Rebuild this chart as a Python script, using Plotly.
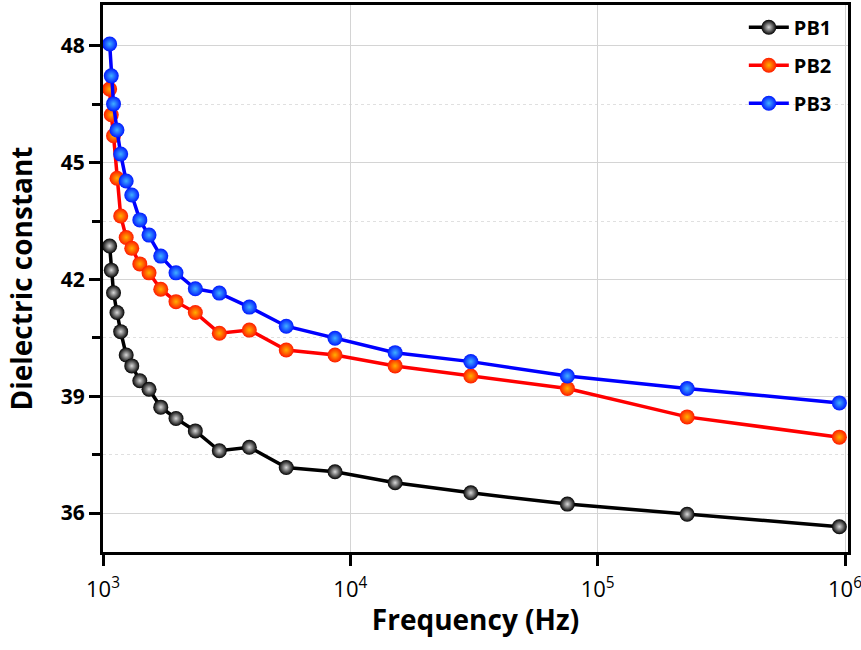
import plotly.graph_objects as go

freq = [1064, 1080, 1103, 1139, 1179, 1241, 1307, 1409, 1535, 1712, 1973, 2362,
        2953, 3905, 5506, 8670, 15170, 30690, 75420, 229900, 948600]
pb1 = [42.86, 42.24, 41.66, 41.15, 40.66, 40.06, 39.78, 39.40, 39.18, 38.72, 38.43,
       38.11, 37.60, 37.69, 37.17, 37.06, 36.78, 36.52, 36.23, 35.97, 35.65]
pb2 = [46.89, 46.23, 45.69, 44.60, 43.63, 43.08, 42.80, 42.40, 42.17, 41.75, 41.43,
       41.15, 40.62, 40.70, 40.19, 40.06, 39.78, 39.52, 39.20, 38.47, 37.95]
pb3 = [48.05, 47.23, 46.51, 45.84, 45.22, 44.53, 44.17, 43.53, 43.14, 42.60, 42.17,
       41.76, 41.65, 41.29, 40.80, 40.49, 40.12, 39.89, 39.52, 39.20, 38.83]

x_tickvals = [1e3, 1e4, 1e5, 1e6]
x_ticktext = ["10<sup>3</sup>", "10<sup>4</sup>", "10<sup>5</sup>", "10<sup>6</sup>"]
y_tickvals = [36, 39, 42, 45, 48]

series = [
    ("PB1", pb1, "#000000", "#000000", "#d8d8d8"),
    ("PB2", pb2, "#ff0000", "#ff1a00", "#ffb000"),
    ("PB3", pb3, "#0000ff", "#0018ff", "#40b0ff"),
]

fig = go.Figure()
for name, vals, lc, mc, hc in series:
    fig.add_trace(go.Scatter(
        x=freq, y=vals, name=name, legendgroup=name, mode="lines+markers",
        line=dict(color=lc, width=3.5),
        marker=dict(size=15, color=mc, line=dict(width=0),
                    gradient=dict(type="radial", color=hc)),
    ))

font_fam = "Open Sans"
fig.update_layout(
    width=861, height=650,
    margin=dict(l=103, r=13, t=5, b=98, autoexpand=False),
    paper_bgcolor="white", plot_bgcolor="white",
    font=dict(family=font_fam, color="black"),
    showlegend=True,
    legend=dict(x=0.985, y=0.995, xanchor="right", yanchor="top",
                bgcolor="rgba(0,0,0,0)", borderwidth=0,
                font=dict(size=20, family=font_fam, weight="bold"),
                traceorder="grouped", tracegroupgap=9, itemwidth=40),
)
fig.update_xaxes(
    type="log", range=[3, 6.012], automargin=False,
    tickvals=x_tickvals, ticktext=x_ticktext, ticklabeloverflow="allow",
    ticks="outside", ticklen=11, tickwidth=3, tickcolor="black",
    ticklabelstandoff=5,
    tickfont=dict(size=22, family=font_fam),
    showline=True, linewidth=3, linecolor="black", mirror=True,
    showgrid=True, gridcolor="#d4d4d4", gridwidth=1,
    zeroline=False,
    title=dict(text="Frequency (Hz)", font=dict(size=28, family=font_fam, weight="bold"),
               standoff=8),
)
fig.update_yaxes(
    range=[35.0, 49.05], automargin=False,
    tickvals=y_tickvals,
    ticks="outside", ticklen=11, tickwidth=3, tickcolor="black",
    tickfont=dict(size=21, family=font_fam, weight="bold"),
    showline=True, linewidth=3, linecolor="black", mirror=True,
    showgrid=True, gridcolor="#d4d4d4", gridwidth=1,
    minor=dict(dtick=1.5, tick0=36, ticks="outside", ticklen=8, tickwidth=2.5,
               tickcolor="black", showgrid=True, gridcolor="#e0e0e0", griddash="dot"),
    zeroline=False,
    title=dict(text="Dielectric constant", font=dict(size=28, family=font_fam, weight="bold"),
               standoff=20),
)

fig.write_html("out.html", config={"displayModeBar": False},
               post_script="document.body.style.margin='0px';document.body.style.overflow='hidden';")
